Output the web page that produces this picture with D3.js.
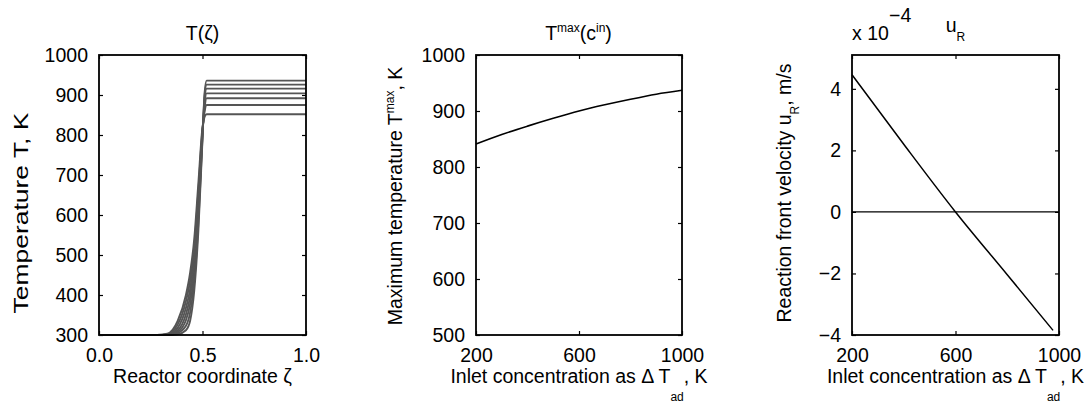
<!DOCTYPE html>
<html>
<head>
<meta charset="utf-8">
<script src="https://cdn.jsdelivr.net/npm/d3@7"></script>
<style>
  body { margin: 0; background: #fff; }
  svg text { font-family: "Liberation Sans", Arial, sans-serif; fill: #000; }
</style>
</head>
<body>
<svg id="chart" width="1088" height="405"></svg>
<script>
// panel 1: temperature profiles along the reactor
var zeta = [0, 0.28, 0.33, 0.38, 0.42, 0.44, 0.46, 0.48, 0.50, 0.51, 0.52, 1.0];
var profile1 = [300, 300, 303, 335, 400, 455, 540, 680, 820, 845, 852, 852];
var profile2 = [300, 300, 302, 326, 385, 435, 520, 660, 815, 858, 875, 875];
var profile3 = [300, 300, 301, 318, 368, 414, 498, 640, 810, 868, 892, 892];
var profile4 = [300, 300, 301, 312, 352, 396, 478, 620, 805, 878, 904, 904];
var profile5 = [300, 300, 300, 308, 337, 377, 455, 600, 800, 888, 916, 916];
var profile6 = [300, 300, 300, 305, 323, 356, 432, 580, 795, 897, 926, 926];
var profile7 = [300, 300, 300, 302, 312, 335, 410, 560, 790, 905, 936, 936];
var profiles = [profile1, profile2, profile3, profile4, profile5, profile6, profile7];

// panel 2: maximum temperature vs inlet concentration
var dTad = [200, 300, 400, 500, 600, 700, 800, 900, 1000];
var tMax = [841, 858, 873, 887, 900, 911, 921, 930, 937];

// panel 3: reaction front velocity (x 1e-4 m/s)
var dTadU = [200, 400, 600, 800, 977];
var uR = [4.46, 2.2, 0, -2.04, -3.85];
var zeroX = [200, 1000];
var zeroY = [0, 0];

var ticks1x = [0, 0.5, 1.0];
var ticks1y = [300, 400, 500, 600, 700, 800, 900, 1000];
var ticks2x = [200, 600, 1000];
var ticks2y = [500, 600, 700, 800, 900, 1000];
var ticks3y = [-4, -2, 0, 2, 4];

var svg = d3.select("#chart");
var top_ = 55, bottom = 335, fs = 19.5, small = 12;

function panel(left, right, xdom, ydom, xt, yt, xfmt, yfmt) {
  var x = d3.scaleLinear().domain(xdom).range([left, right]);
  var y = d3.scaleLinear().domain(ydom).range([bottom, top_]);
  var g = svg.append("g");

  var ax = [
    d3.axisBottom(x).tickValues(xt).tickFormat(xfmt).tickPadding(13),
    d3.axisTop(x).tickValues(xt).tickFormat(""),
    d3.axisLeft(y).tickValues(yt).tickFormat(yfmt).tickPadding(11),
    d3.axisRight(y).tickValues(yt).tickFormat("")
  ];
  var pos = ["translate(0," + bottom + ")", "translate(0," + top_ + ")",
             "translate(" + left + ",0)", "translate(" + right + ",0)"];
  ax.forEach(function(a, i) {
    var ga = g.append("g").attr("transform", pos[i])
      .call(a.tickSizeInner(-4).tickSizeOuter(0));
    ga.select(".domain").remove();
    ga.selectAll("line").attr("stroke", "#000").attr("stroke-width", 1.2);
    ga.selectAll("text").style("font-size", fs + "px")
      .style("font-family", '"Liberation Sans", Arial, sans-serif');
  });
  return {x: x, y: y, g: g, left: left, right: right};
}

function box(p) {
  p.g.append("rect")
    .attr("x", p.left).attr("y", top_)
    .attr("width", p.right - p.left).attr("height", bottom - top_)
    .attr("fill", "none").attr("stroke", "#000").attr("stroke-width", 1.8);
}

// ---- panel 1
var p1 = panel(99, 306, [0, 1], [300, 1000], ticks1x, ticks1y, d3.format(".1f"), d3.format("d"));
var line1 = d3.line()
  .x(function(d, i) { return p1.x(zeta[i]); })
  .y(function(d) { return p1.y(d); })
  .curve(d3.curveMonotoneX);
p1.g.selectAll(".prof").data(profiles).enter().append("path")
  .attr("class", "prof")
  .attr("d", line1)
  .attr("fill", "none").attr("stroke", "#555").attr("stroke-width", 1.9);
box(p1);

// ---- panel 2
var p2 = panel(476, 682, [200, 1000], [500, 1000], ticks2x, ticks2y, d3.format("d"), d3.format("d"));
var line2 = d3.line()
  .x(function(d, i) { return p2.x(dTad[i]); })
  .y(function(d) { return p2.y(d); })
  .curve(d3.curveMonotoneX);
p2.g.append("path").datum(tMax).attr("d", line2)
  .attr("fill", "none").attr("stroke", "#000").attr("stroke-width", 1.6);
box(p2);

// ---- panel 3
var p3 = panel(852, 1059, [200, 1000], [-4, 5.1], ticks2x, ticks3y, d3.format("d"), d3.format("d"));
var line3 = d3.line()
  .x(function(d, i) { return p3.x(dTadU[i]); })
  .y(function(d) { return p3.y(d); })
  .curve(d3.curveMonotoneX);
p3.g.append("path").datum(uR).attr("d", line3)
  .attr("fill", "none").attr("stroke", "#000").attr("stroke-width", 1.5);
p3.g.append("path").datum(zeroY)
  .attr("d", d3.line().x(function(d, i) { return p3.x(zeroX[i]); }).y(function(d) { return p3.y(d); }))
  .attr("fill", "none").attr("stroke", "#000").attr("stroke-width", 1.4);
box(p3);

// ---- text helper: parts are [text, "sup"|"sub", shift]
function rich(x, y, parts, opt) {
  opt = opt || {};
  var tr = "translate(" + x + "," + y + ")";
  if (opt.stretch) tr += " scale(1," + opt.stretch + ")";
  if (opt.rotate) tr += " rotate(-90)";
  var t = svg.append("g").attr("transform", tr)
    .append("text").attr("text-anchor", opt.anchor || "middle")
    .style("font-size", (opt.size || fs) + "px");
  var shift = 0;
  parts.forEach(function(pt) {
    var s = pt[1] ? pt[2] : 0;
    var ts = t.append("tspan").text(pt[0]).attr("dy", s - shift);
    if (pt[1]) ts.style("font-size", small + "px");
    shift = s;
  });
  return t;
}

// titles
rich(202.5, 40, [["T(ζ)"]]);
rich(578.5, 40, [["T"], ["max", "sup", -8], ["(c"], ["in", "sup", -8], [")"]]);
rich(852, 40, [["x 10"]], {anchor: "start"});
rich(889, 21.5, [["\u22124"]], {anchor: "start"});
rich(955.5, 31.5, [["u"], ["R", "sub", 9]]);

// y labels
rich(28, 213, [["Temperature T, K"]], {rotate: true, size: 21, stretch: 1.26});
rich(402, 196, [["Maximum temperature T"], ["max", "sup", -8], [", K"]], {rotate: true});
rich(791, 193, [["Reaction front velocity u"], ["R", "sub", 8], [", m/s"]], {rotate: true});

// x labels
rich(202.5, 383, [["Reactor coordinate ζ"]]);
rich(579, 383, [["Inlet concentration as Δ T"], ["ad", "sub", 18], [", K"]]);
rich(955.5, 383, [["Inlet concentration as Δ T"], ["ad", "sub", 18], [", K"]]);
</script>
</body>
</html>
